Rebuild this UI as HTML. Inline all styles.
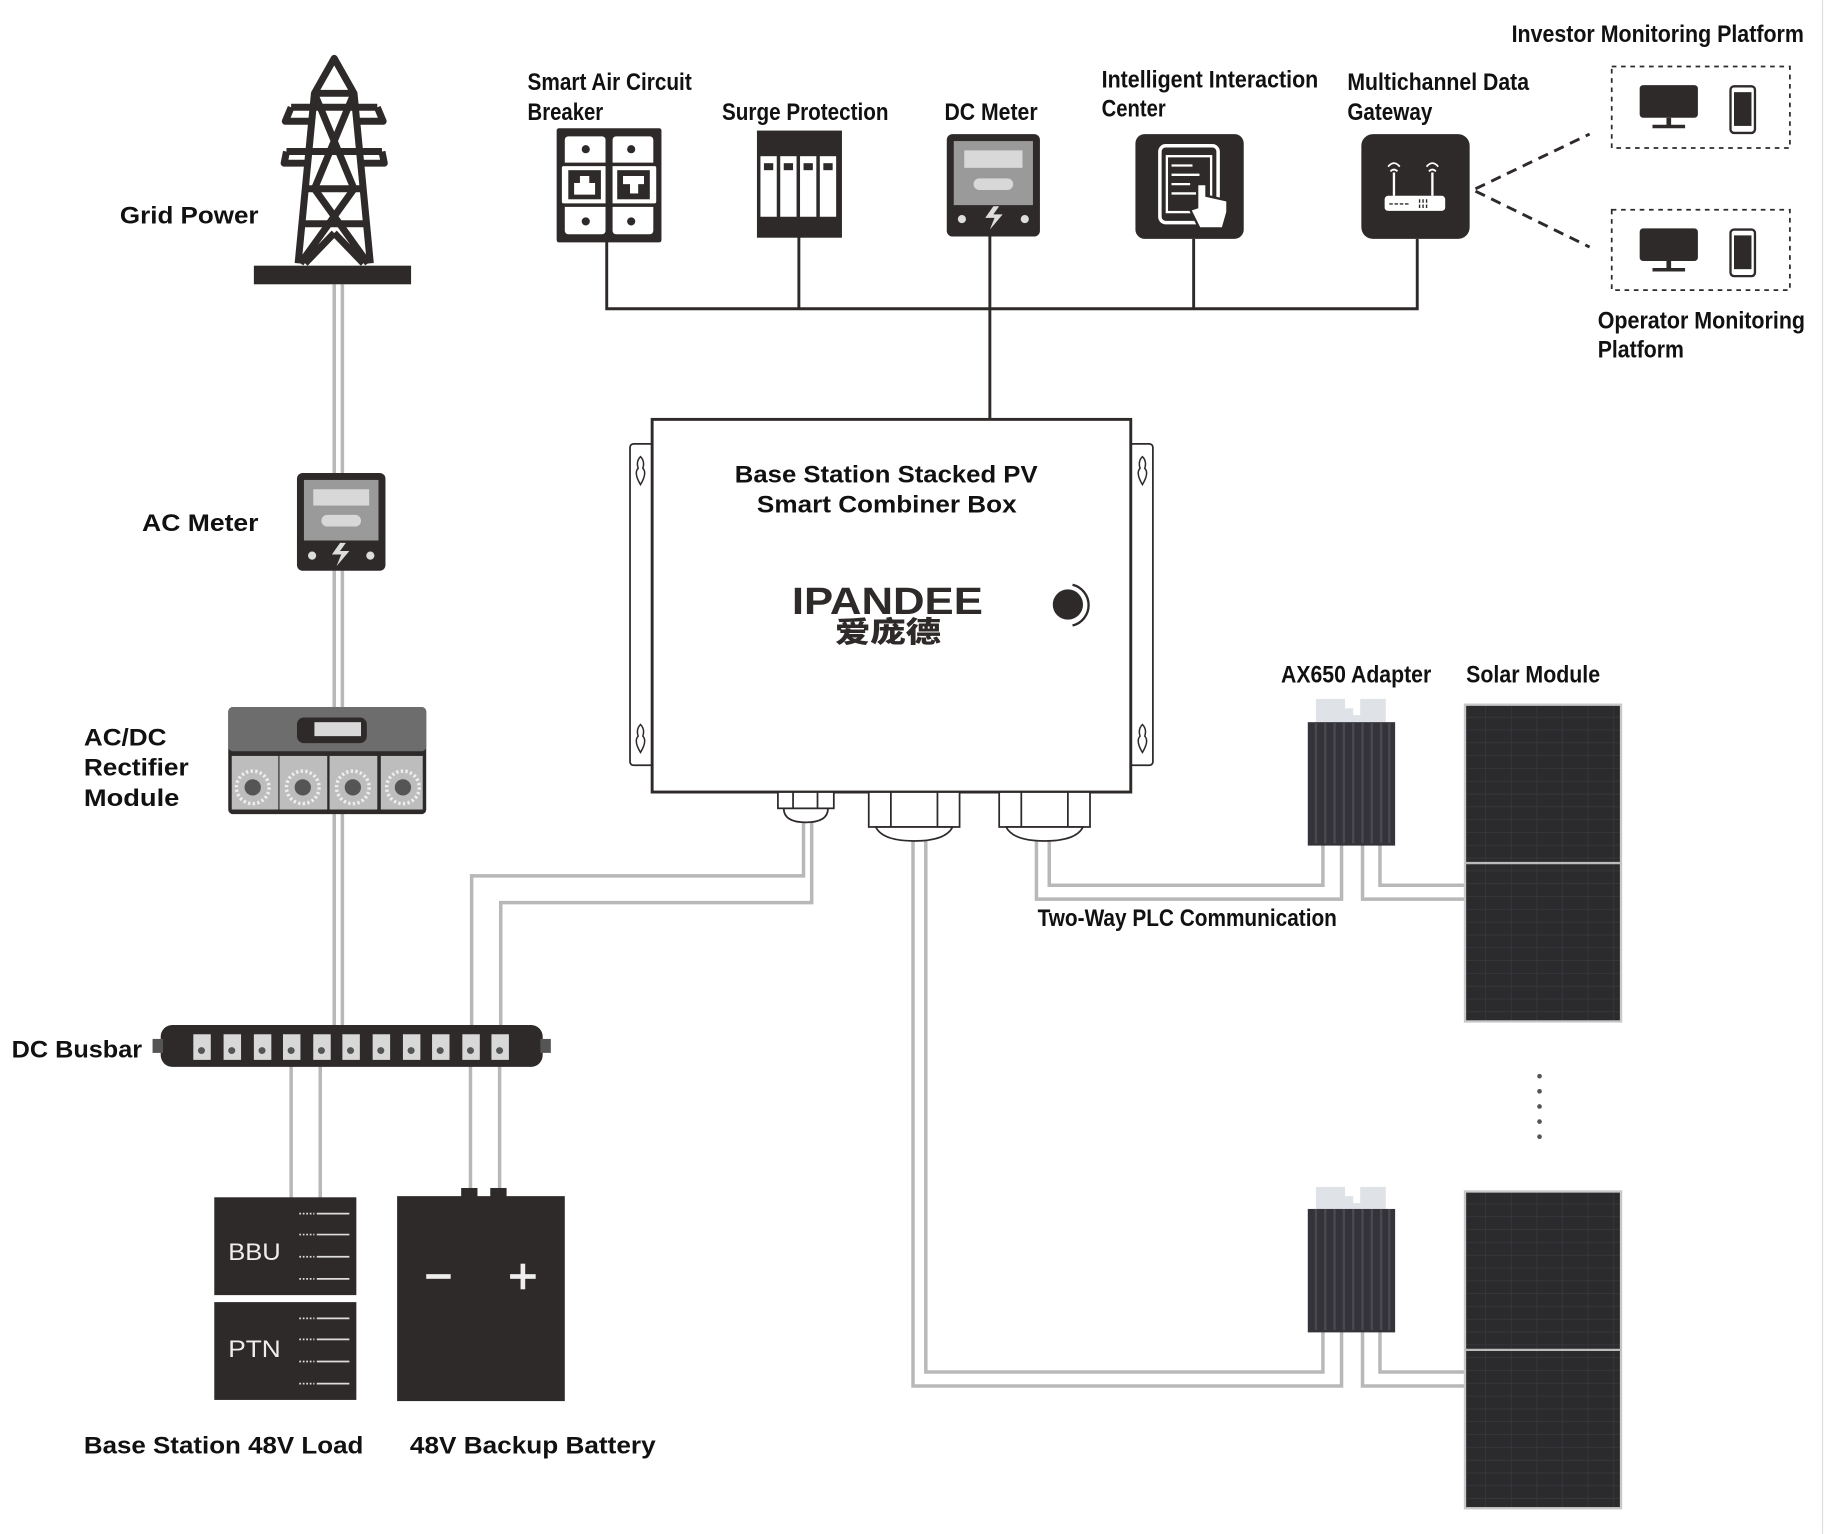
<!DOCTYPE html>
<html><head><meta charset="utf-8"><style>
html,body{margin:0;padding:0;background:#fff}
svg{display:block}
.lb{font-family:"Liberation Sans",sans-serif;font-weight:bold;font-size:21px;fill:#111}
.cn{font-family:"Liberation Sans Narrow","Liberation Sans",sans-serif;font-weight:bold;font-size:21px;fill:#111}
.w{fill:none;stroke:#b8b8b8;stroke-width:3}
.d{fill:#2e2a29}
</style></head><body>
<svg width="1826" height="1534" viewBox="0 0 1568 1317" xmlns="http://www.w3.org/2000/svg">
<rect width="1568" height="1317" fill="#fff"/>
<line x1="1565" y1="0" x2="1565" y2="1317" stroke="#ddd" stroke-width="1"/>

<path class="w" d="M287 244V882M294 244V882"/>
<path class="w" d="M250 914V1030M275 914V1030M404 914V1025M429 914V1025"/>
<path class="w" d="M690 705V752H405V882M697 705V775H430V882"/>
<path class="w" d="M784 720V1190H1152V1143M795 720V1178H1136V1143"/>
<path class="w" d="M890 720V772H1152V725M901 720V760H1136V725"/>
<path class="w" d="M1170 725V772H1258M1185 725V760H1258"/>
<path class="w" d="M1170 1143V1190H1258M1185 1143V1178H1258"/>

<g fill="none" stroke="#2e2a29" stroke-width="6" stroke-linejoin="round">
<path d="M287 50L270 80H304Z"/>
<path d="M270 80L256 226M304 80L318 226"/>
<path d="M250 92H324M246 130H328M262 162H312M260 192H314"/>
<path d="M270 80L304 162M304 80L270 162M270 162L316 226M304 162L258 226M287 200L262 226M287 200L312 226"/>
<path d="M250 92L245 104H270M324 92L329 104H304M246 130L244 140H262M328 130L330 140H312"/>
</g>
<rect x="218" y="228" width="135" height="16" class="d"/>

<rect x="255" y="406" width="76" height="84" rx="5" class="d"/>
<rect x="261" y="412" width="64" height="52" fill="#9a9a9a"/>
<rect x="269" y="420" width="48" height="14" fill="#d8d8d8"/>
<rect x="276" y="442" width="34" height="10" rx="5" fill="#d8d8d8"/>
<circle cx="268" cy="477" r="3.5" fill="#ddd"/><circle cx="318" cy="477" r="3.5" fill="#ddd"/>
<path d="M292 466L285 476H293L289 486L300 473H292L297 466Z" fill="#ddd"/>

<rect x="196" y="607" width="170" height="92" rx="4" class="d"/>
<rect x="196" y="607" width="170" height="38" rx="4" fill="#6d6d6d"/>
<rect x="255" y="616" width="60" height="22" rx="6" class="d"/>
<rect x="270" y="620" width="40" height="12" fill="#d8d8d8"/>
<g fill="#bdbdbd"><rect x="199" y="649" width="40" height="46"/><rect x="240" y="649" width="41" height="46"/><rect x="283" y="649" width="41" height="46"/><rect x="327" y="649" width="36" height="46"/></g>
<g fill="none" stroke="#eee" stroke-width="3" stroke-dasharray="2 2"><circle cx="217" cy="676" r="14"/><circle cx="260" cy="676" r="14"/><circle cx="303" cy="676" r="14"/><circle cx="346" cy="676" r="14"/></g>
<g fill="#555"><circle cx="217" cy="676" r="7"/><circle cx="260" cy="676" r="7"/><circle cx="303" cy="676" r="7"/><circle cx="346" cy="676" r="7"/></g>

<rect x="138" y="880" width="328" height="36" rx="10" class="d"/>
<rect x="131" y="892" width="9" height="12" fill="#555"/><rect x="464" y="892" width="9" height="12" fill="#555"/>
<g fill="#d8d8d8">
<rect x="166" y="888" width="15" height="22"/><rect x="192" y="888" width="15" height="22"/><rect x="218" y="888" width="15" height="22"/><rect x="243" y="888" width="15" height="22"/><rect x="269" y="888" width="15" height="22"/><rect x="294" y="888" width="15" height="22"/><rect x="320" y="888" width="15" height="22"/><rect x="346" y="888" width="15" height="22"/><rect x="371" y="888" width="15" height="22"/><rect x="397" y="888" width="15" height="22"/><rect x="422" y="888" width="15" height="22"/>
</g>
<g fill="#555"><circle cx="173" cy="902" r="3"/><circle cx="199" cy="902" r="3"/><circle cx="225" cy="902" r="3"/><circle cx="250" cy="902" r="3"/><circle cx="276" cy="902" r="3"/><circle cx="301" cy="902" r="3"/><circle cx="327" cy="902" r="3"/><circle cx="353" cy="902" r="3"/><circle cx="378" cy="902" r="3"/><circle cx="404" cy="902" r="3"/><circle cx="429" cy="902" r="3"/></g>

<rect x="184" y="1028" width="122" height="84" class="d"/>
<rect x="184" y="1118" width="122" height="84" class="d"/>
<g stroke="#ddd" stroke-width="1.5"><path d="M272 1042H300M272 1060H300M272 1079H300M272 1098H300M272 1132H300M272 1150H300M272 1169H300M272 1188H300"/></g>
<g stroke="#ddd" stroke-width="1.5" stroke-dasharray="1.5 1.5"><path d="M257 1042H270M257 1060H270M257 1079H270M257 1098H270M257 1132H270M257 1150H270M257 1169H270M257 1188H270"/></g>
<text x="196" y="1082" font-family="Liberation Sans,sans-serif" font-size="21" fill="#eee" textLength="45" lengthAdjust="spacingAndGlyphs">BBU</text>
<text x="196" y="1165" font-family="Liberation Sans,sans-serif" font-size="21" fill="#eee" textLength="45" lengthAdjust="spacingAndGlyphs">PTN</text>

<rect x="341" y="1027" width="144" height="176" class="d"/>
<rect x="396" y="1020" width="14" height="8" class="d"/><rect x="421" y="1020" width="14" height="8" class="d"/>
<rect x="366" y="1094" width="21" height="4" fill="#eee"/>
<rect x="438" y="1094" width="22" height="4" fill="#eee"/><rect x="447" y="1085" width="4" height="22" fill="#eee"/>

<text class="lb" x="103" y="192" textLength="119" lengthAdjust="spacingAndGlyphs">Grid Power</text>
<text class="lb" x="122" y="456" textLength="100" lengthAdjust="spacingAndGlyphs">AC Meter</text>
<text class="lb" x="72" y="640" textLength="71" lengthAdjust="spacingAndGlyphs">AC/DC</text>
<text class="lb" x="72" y="666" textLength="90" lengthAdjust="spacingAndGlyphs">Rectifier</text>
<text class="lb" x="72" y="692" textLength="82" lengthAdjust="spacingAndGlyphs">Module</text>
<text class="lb" x="10" y="908" textLength="112" lengthAdjust="spacingAndGlyphs">DC Busbar</text>
<text class="lb" x="72" y="1248" textLength="240" lengthAdjust="spacingAndGlyphs">Base Station 48V Load</text>
<text class="lb" x="352" y="1248" textLength="211" lengthAdjust="spacingAndGlyphs">48V Backup Battery</text>

<path d="M521 207V265H1217V205M686 203V265M850 203V360M1025 205V265" fill="none" stroke="#2e2a29" stroke-width="2.5"/>

<rect x="478" y="110" width="90" height="98" rx="2" class="d"/>
<rect x="485" y="117" width="35" height="84" rx="3" fill="#fff"/><rect x="526" y="117" width="35" height="84" rx="3" fill="#fff"/>
<rect x="481" y="141" width="84" height="35" rx="3" fill="#fff" stroke="#2e2a29" stroke-width="3"/>
<rect x="520" y="117" width="6" height="84" class="d"/>
<rect x="488" y="146" width="28" height="25" class="d"/><rect x="530" y="146" width="28" height="25" class="d"/>
<rect x="493" y="157" width="18" height="10" fill="#fff"/><rect x="498" y="151" width="8" height="8" fill="#fff"/>
<rect x="535" y="151" width="18" height="7" fill="#fff"/><rect x="541" y="151" width="7" height="15" fill="#fff"/>
<g class="d"><circle cx="503" cy="128" r="3.5"/><circle cx="542" cy="128" r="3.5"/><circle cx="503" cy="190" r="3.5"/><circle cx="542" cy="190" r="3.5"/></g>

<rect x="650" y="112" width="73" height="92" class="d"/>
<g fill="#fff"><rect x="653" y="134" width="14" height="52"/><rect x="670" y="134" width="14" height="52"/><rect x="687" y="134" width="14" height="52"/><rect x="704" y="134" width="14" height="52"/></g>
<g class="d"><rect x="656" y="140" width="8" height="6"/><rect x="673" y="140" width="8" height="6"/><rect x="690" y="140" width="8" height="6"/><rect x="707" y="140" width="8" height="6"/></g>

<rect x="813" y="115" width="80" height="88" rx="5" class="d"/>
<rect x="819" y="121" width="68" height="55" fill="#9a9a9a"/>
<rect x="828" y="129" width="50" height="15" fill="#d8d8d8"/>
<rect x="836" y="153" width="34" height="10" rx="5" fill="#d8d8d8"/>
<circle cx="826" cy="188" r="3.5" fill="#ddd"/><circle cx="880" cy="188" r="3.5" fill="#ddd"/>
<path d="M853 177L846 187H854L850 197L861 184H853L858 177Z" fill="#ddd"/>

<rect x="975" y="115" width="93" height="90" rx="8" class="d"/>
<rect x="996" y="125" width="50" height="66" rx="5" fill="none" stroke="#fff" stroke-width="3"/>
<rect x="1002" y="134" width="38" height="48" fill="none" stroke="#fff" stroke-width="2"/>
<path d="M1006 142H1024M1006 150H1030M1006 158H1022M1006 166H1030" stroke="#fff" stroke-width="2"/>
<path d="M1028 158V178L1022 180L1030 196H1050L1054 182V172L1036 168V158Z" fill="#fff" stroke="#2e2a29" stroke-width="2"/>

<rect x="1169" y="115" width="93" height="90" rx="10" class="d"/>
<rect x="1189" y="168" width="52" height="13" rx="3" fill="#fff"/>
<path d="M1197 168V148M1230 168V148" stroke="#fff" stroke-width="2"/>
<path d="M1192 143Q1197 137 1202 143M1225 143Q1230 137 1235 143M1194 147Q1197 144 1200 147M1227 147Q1230 144 1233 147" stroke="#fff" stroke-width="1.5" fill="none"/>
<path d="M1193 175H1211M1219 171V179M1222 171V179M1225 171V179" stroke="#2e2a29" stroke-width="1.2" stroke-dasharray="3 1.5"/>

<path d="M1267 162L1365 115M1267 164L1365 212" stroke="#2e2a29" stroke-width="2.5" stroke-dasharray="9 6" fill="none"/>
<rect x="1384" y="57" width="153" height="70" fill="none" stroke="#2e2a29" stroke-width="1.5" stroke-dasharray="4 4"/>
<rect x="1384" y="180" width="153" height="69" fill="none" stroke="#2e2a29" stroke-width="1.5" stroke-dasharray="4 4"/>
<g class="d">
<rect x="1408" y="73" width="50" height="28" rx="3"/><rect x="1431" y="101" width="4" height="7"/><rect x="1419" y="107" width="28" height="3"/>
<rect x="1408" y="196" width="50" height="28" rx="3"/><rect x="1431" y="224" width="4" height="7"/><rect x="1419" y="230" width="28" height="3"/>
</g>
<rect x="1486" y="74" width="21" height="40" rx="3" fill="#fff" stroke="#2e2a29" stroke-width="2"/><rect x="1489" y="79" width="15" height="29" class="d"/>
<rect x="1486" y="197" width="21" height="40" rx="3" fill="#fff" stroke="#2e2a29" stroke-width="2"/><rect x="1489" y="202" width="15" height="29" class="d"/>

<text class="cn" x="453" y="77" textLength="141" lengthAdjust="spacingAndGlyphs">Smart Air Circuit</text>
<text class="cn" x="453" y="103" textLength="65" lengthAdjust="spacingAndGlyphs">Breaker</text>
<text class="cn" x="620" y="103" textLength="143" lengthAdjust="spacingAndGlyphs">Surge Protection</text>
<text class="cn" x="811" y="103" textLength="80" lengthAdjust="spacingAndGlyphs">DC Meter</text>
<text class="cn" x="946" y="75" textLength="186" lengthAdjust="spacingAndGlyphs">Intelligent Interaction</text>
<text class="cn" x="946" y="100" textLength="55" lengthAdjust="spacingAndGlyphs">Center</text>
<text class="cn" x="1157" y="77" textLength="156" lengthAdjust="spacingAndGlyphs">Multichannel Data</text>
<text class="cn" x="1157" y="103" textLength="73" lengthAdjust="spacingAndGlyphs">Gateway</text>
<text class="cn" x="1298" y="36" textLength="251" lengthAdjust="spacingAndGlyphs">Investor Monitoring Platform</text>
<text class="cn" x="1372" y="282" textLength="178" lengthAdjust="spacingAndGlyphs">Operator Monitoring</text>
<text class="cn" x="1372" y="307" textLength="74" lengthAdjust="spacingAndGlyphs">Platform</text>

<rect x="541" y="381" width="20" height="276" rx="3" fill="#fff" stroke="#2e2a29" stroke-width="1.5"/>
<rect x="970" y="381" width="20" height="276" rx="3" fill="#fff" stroke="#2e2a29" stroke-width="1.5"/>
<g fill="none" stroke="#2e2a29" stroke-width="1.3">
<path d="M550 392q-4 4-2 10q-4 4 2 14q6-10 2-14q2-6-2-10z"/><path d="M550 622q-4 4-2 10q-4 4 2 14q6-10 2-14q2-6-2-10z"/>
<path d="M981 392q-4 4-2 10q-4 4 2 14q6-10 2-14q2-6-2-10z"/><path d="M981 622q-4 4-2 10q-4 4 2 14q6-10 2-14q2-6-2-10z"/>
</g>
<rect x="560" y="360" width="411" height="320" fill="#fff" stroke="#2e2a29" stroke-width="2.5"/>
<text class="lb" x="631" y="414" textLength="260" lengthAdjust="spacingAndGlyphs">Base Station Stacked PV</text>
<text class="lb" x="650" y="440" textLength="223" lengthAdjust="spacingAndGlyphs">Smart Combiner Box</text>
<text x="680" y="527" font-family="Liberation Sans,sans-serif" font-weight="bold" font-size="33" fill="#2e2a29" textLength="164" lengthAdjust="spacingAndGlyphs">IPANDEE</text>
<text x="717" y="551" font-family="Liberation Sans,'Noto Sans CJK SC',sans-serif" font-weight="900" font-size="25" fill="#2e2a29" textLength="91" lengthAdjust="spacingAndGlyphs">爱庞德</text>
<circle cx="917" cy="519" r="13" class="d"/>
<path d="M921 502A18 18 0 0 1 921 537" fill="none" stroke="#2e2a29" stroke-width="2"/>
<g fill="#fff" stroke="#2e2a29" stroke-width="1.5">
<rect x="668" y="680" width="48" height="14"/><path d="M673 694H711Q711 706 692 706Q673 706 673 694Z"/>
<rect x="746" y="680" width="78" height="30"/><path d="M752 710H818Q812 722 785 722Q758 722 752 710Z"/>
<rect x="858" y="680" width="78" height="30"/><path d="M864 710H930Q924 722 897 722Q870 722 864 710Z"/>
</g>
<path d="M681 680V694M702 680V694M765 680V710M805 680V710M877 680V710M917 680V710" stroke="#2e2a29" stroke-width="1.5"/>

<g>
<path d="M1130 600H1155V608H1162V614H1168V600H1190V622H1130Z" fill="#dfe3e8"/>
<rect x="1123" y="620" width="75" height="106" fill="#34333a"/>
<path d="M1130 620V724M1138 620V724M1146 620V724M1154 620V724M1162 620V724M1170 620V724M1178 620V724M1186 620V724M1193 620V724" stroke="#4a4950" stroke-width="2"/>
<path d="M1130 1019H1155V1027H1162V1033H1168V1019H1190V1040H1130Z" fill="#dfe3e8"/>
<rect x="1123" y="1038" width="75" height="106" fill="#34333a"/>
<path d="M1130 1038V1142M1138 1038V1142M1146 1038V1142M1154 1038V1142M1162 1038V1142M1170 1038V1142M1178 1038V1142M1186 1038V1142M1193 1038V1142" stroke="#4a4950" stroke-width="2"/>
</g>

<defs>
<pattern id="cells" width="22" height="11" patternUnits="userSpaceOnUse">
<rect width="22" height="11" fill="#2b2b2e"/><path d="M22 0V11M0 11H22" stroke="#3c3c40" stroke-width="1"/>
</pattern>
</defs>
<rect x="1258" y="605" width="134" height="272" fill="url(#cells)" stroke="#c8c8c8" stroke-width="2"/>
<line x1="1258" y1="741" x2="1392" y2="741" stroke="#bbb" stroke-width="2"/>
<rect x="1258" y="1023" width="134" height="272" fill="url(#cells)" stroke="#c8c8c8" stroke-width="2"/>
<line x1="1258" y1="1159" x2="1392" y2="1159" stroke="#bbb" stroke-width="2"/>
<g fill="#555"><circle cx="1322" cy="924" r="2"/><circle cx="1322" cy="937" r="2"/><circle cx="1322" cy="950" r="2"/><circle cx="1322" cy="963" r="2"/><circle cx="1322" cy="976" r="2"/></g>

<text class="cn" x="1100" y="586" textLength="129" lengthAdjust="spacingAndGlyphs">AX650 Adapter</text>
<text class="cn" x="1259" y="586" textLength="115" lengthAdjust="spacingAndGlyphs">Solar Module</text>
<text class="cn" x="891" y="795" textLength="257" lengthAdjust="spacingAndGlyphs">Two-Way PLC Communication</text>
</svg>
</body></html>
